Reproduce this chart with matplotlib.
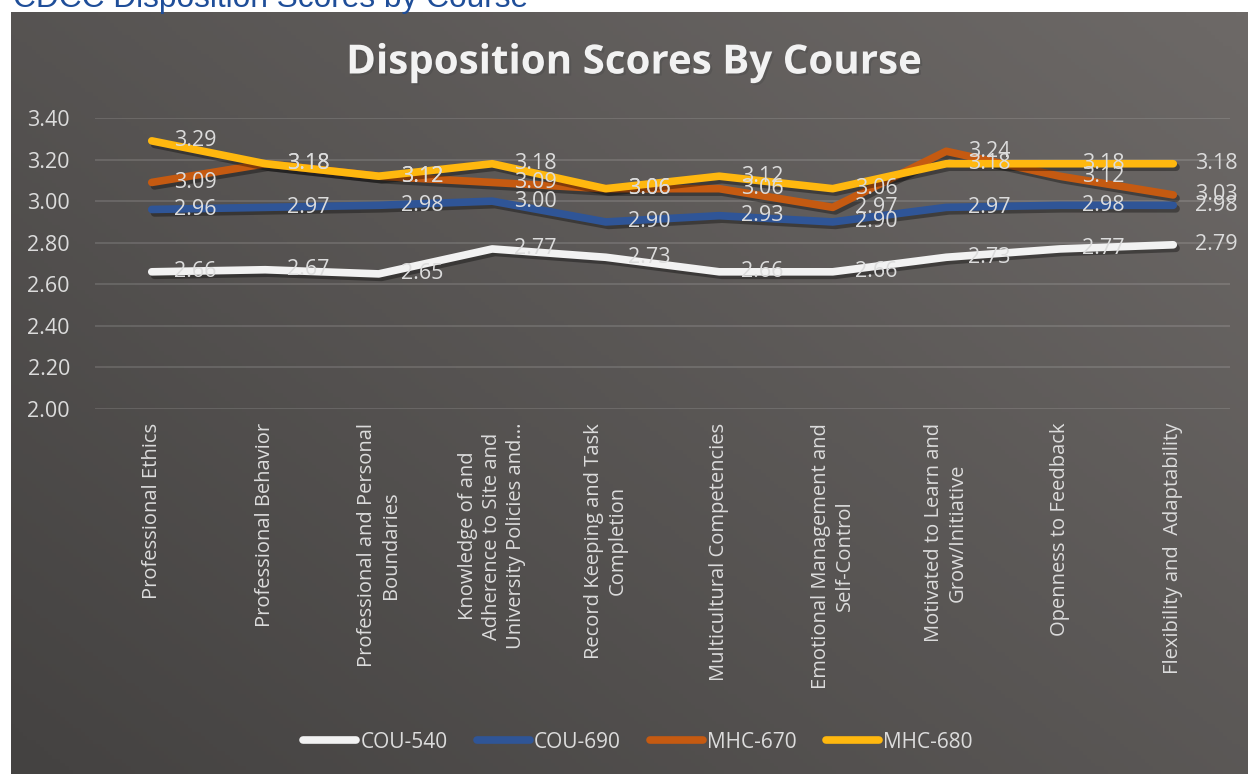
import numpy as np
import matplotlib
matplotlib.use("Agg")
import matplotlib.pyplot as plt
import matplotlib.patheffects as pe
from matplotlib.colors import LinearSegmentedColormap
from matplotlib.lines import Line2D

plt.rcParams['font.family'] = ['Open Sans', 'DejaVu Sans']

categories = [
    "Professional Ethics",
    "Professional Behavior",
    "Professional and Personal\nBoundaries",
    "Knowledge of and\nAdherence to Site and\nUniversity Policies and...",
    "Record Keeping and Task\nCompletion",
    "Multicultural Competencies",
    "Emotional Management and\nSelf-Control",
    "Motivated to Learn and\nGrow/Initiative",
    "Openness to Feedback",
    "Flexibility and  Adaptability",
]
courses = ["COU-540", "COU-690", "MHC-670", "MHC-680"]
cou540 = [2.66, 2.67, 2.65, 2.77, 2.73, 2.66, 2.66, 2.73, 2.77, 2.79]
cou690 = [2.96, 2.97, 2.98, 3.00, 2.90, 2.93, 2.90, 2.97, 2.98, 2.98]
mhc670 = [3.09, 3.18, 3.12, 3.09, 3.06, 3.06, 2.97, 3.24, 3.12, 3.03]
mhc680 = [3.29, 3.18, 3.12, 3.18, 3.06, 3.12, 3.06, 3.18, 3.18, 3.18]
y_ticks = [2.00, 2.20, 2.40, 2.60, 2.80, 3.00, 3.20, 3.40]

series = [cou540, cou690, mhc670, mhc680]
colors = ["#f2f2f2", "#2f5597", "#c55a11", "#ffb80f"]
label_color = "#dcdcdc"

W, H = 1248, 774
fig = plt.figure(figsize=(W / 100, H / 100), dpi=100)
fig.patch.set_facecolor("white")

# page heading, cut off at the top
fig.text(13 / W, 1 - 7.5 / H, "CDCC Disposition Scores by Course",
         ha="left", va="baseline", fontsize=22.8, color="#1f4e99",
         family=["Liberation Sans", "DejaVu Sans"])

# gradient chart background
bg = fig.add_axes([11 / W, 0, 1 - 11 / W, 1 - 12 / H])
gx, gy = np.meshgrid(np.linspace(0, 1, 300), np.linspace(1, 0, 200))
grad = 0.55 * gx + 0.45 * gy
cmap = LinearSegmentedColormap.from_list("bg", ["#444241", "#6d6967"])
bg.imshow(grad, extent=[0, 1, 0, 1], aspect="auto", cmap=cmap)
bg.axis("off")

ax = fig.add_axes([95 / W, 1 - 409 / H, 1135 / W, 291 / H])
ax.patch.set_alpha(0)
ax.set_xlim(-0.5, len(categories) - 0.5)
ax.set_ylim(2.0, 3.4)

for y in y_ticks:
    ax.axhline(y, color="#ffffff", alpha=0.13, lw=1.4, zorder=1)

shadow = [pe.SimpleLineShadow(offset=(2, -2.5), shadow_color="black", alpha=0.35),
          pe.Normal()]
x = np.arange(len(categories))
for vals, c in zip(series, colors):
    ax.plot(x, vals, color=c, lw=5.5, solid_capstyle="round",
            solid_joinstyle="round", path_effects=shadow, zorder=3)

for vals in series:
    for i, v in enumerate(vals):
        ax.annotate(f"{v:.2f}", (i, v), xytext=(16, 0), textcoords="offset points",
                    ha="left", va="center", fontsize=15.5, color=label_color,
                    zorder=5, annotation_clip=False)

ax.set_xticks(x)
ax.set_xticklabels(categories, rotation=90, fontsize=14.5, color=label_color,
                   linespacing=1.25, multialignment="center")
ax.set_yticks(y_ticks)
ax.set_yticklabels([f"{t:.2f}" for t in y_ticks], fontsize=15.5, color=label_color)
ax.tick_params(axis="both", length=0)
ax.tick_params(axis="x", pad=10)
ax.tick_params(axis="y", pad=18)
for s in ax.spines.values():
    s.set_visible(False)

fig.text(633 / W, 1 - 63 / H, "Disposition Scores By Course", ha="center",
         va="center", fontsize=29, fontweight="bold", color="#f2f2f2",
         path_effects=[pe.withSimplePatchShadow(offset=(1.5, -1.5), alpha=0.4)])

handles = [Line2D([0], [0], color=c, lw=5.5, solid_capstyle="round") for c in colors]
fig.legend(handles, courses, loc="center", bbox_to_anchor=(638 / W, 1 - 742 / H),
           ncol=4, frameon=False, handlelength=2.55, handletextpad=0.2,
           columnspacing=1.4, fontsize=15, labelcolor=label_color)

fig.savefig("out.png", dpi=100)
